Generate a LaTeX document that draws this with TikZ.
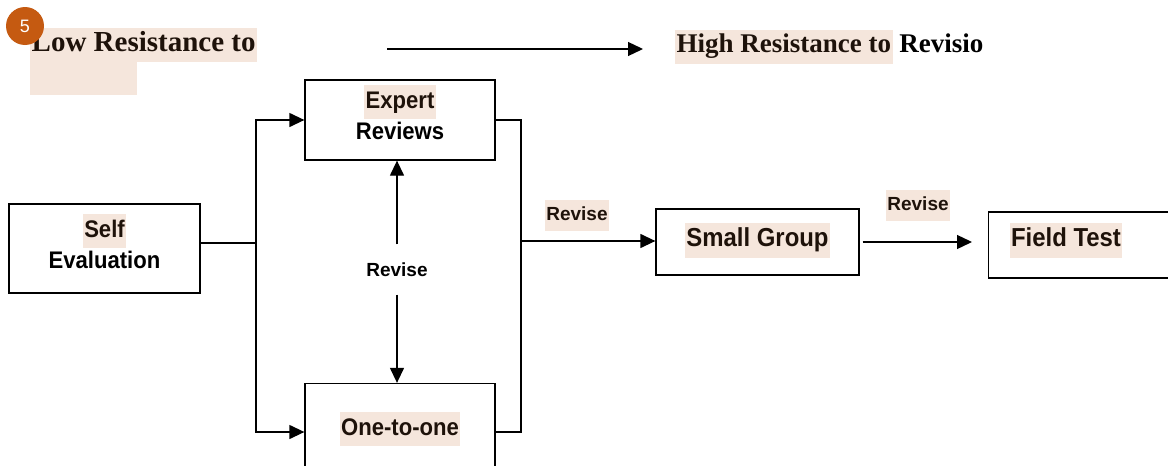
\documentclass[tikz,border=0pt]{standalone}
\usepackage{fontspec}
\setmainfont{Liberation Serif}
\newfontfamily\boxfont[FakeStretch=0.92]{Liberation Sans}
\newfontfamily\tagfont{Liberation Sans}
\usetikzlibrary{arrows.meta}
\definecolor{peach}{RGB}{245,230,220}
\definecolor{badge}{RGB}{197,90,17}
\definecolor{ink}{RGB}{30,18,10}
\newcommand{\hl}[1]{{\setlength{\fboxsep}{1.5pt}\colorbox{peach}{\strut\color{ink}#1}}}

\begin{document}
\begin{tikzpicture}[x=1pt,y=-1pt]
\tikzstyle{every node}+=[inner sep=0pt]
\tikzstyle{stage}=[draw,line width=1.3pt,rectangle]
\tikzstyle{stagetext}=[font=\boxfont\bfseries\fontsize{24}{31}\selectfont,align=center]
\tikzstyle{bigtext}=[font=\boxfont\bfseries\fontsize{26}{32}\selectfont]
\tikzstyle{tag}=[font=\tagfont\bfseries\fontsize{19}{28}\selectfont]
\tikzstyle{head}=[font=\bfseries\fontsize{29}{31}\selectfont,anchor=west]
\tikzstyle{flow}=[line width=1.3pt,-{Triangle[length=15pt,width=14pt]}]
\useasboundingbox (0,0) rectangle (1168,466);
\clip (0,0) rectangle (1168,466);

\node[head] (low) at (30,45) {\hl{Low Resistance to}};
\fill[peach] (30,62) rectangle (137,95);
\node[circle,fill=badge,minimum size=38pt,text=white,font=\tagfont\fontsize{18}{20}\selectfont] (badge) at (25,26) {5};
\coordinate (lowend) at (387,49);
\coordinate (highend) at (643,49);
\draw[flow] (lowend) -- (highend);
\node[head,font=\bfseries\fontsize{27}{31}\selectfont] (high) at (675,46.5) {\hl{High Resistance to} Revisio};

\node[stage,minimum width=191pt,minimum height=89pt] (self) at (104.5,248.5) {};
\node[stagetext,anchor=north] (selftxt) at (104.5,214) {\hl{Self}\\Evaluation};
\node[stage,minimum width=190pt,minimum height=80pt] (expert) at (400,120) {};
\node[stagetext,anchor=north] (experttxt) at (400,85) {\hl{Expert}\\Reviews};
\node[stage,minimum width=190pt,minimum height=97pt] (one) at (400,432) {};
\node[stagetext] (onetxt) at (400,429) {\hl{One-to-one}};
\node[stage,minimum width=203pt,minimum height=66pt] (small) at (757.5,242) {};
\node[bigtext] (smalltxt) at (757.5,240) {\hl{Small Group}};
\node[stage,anchor=west,minimum width=240pt,minimum height=66pt] (field) at (988,245) {};
\node[bigtext] (fieldtxt) at (1066,240) {\hl{Field Test}};

\node[tag,inner ysep=18pt] (revise) at (397,269.5) {Revise};
\node[tag] (revisea) at (577,215) {\hl{Revise}};
\node[tag] (reviseb) at (918,205) {\hl{Revise}};

\coordinate (split) at (256,243);
\coordinate (merge) at (521,241);
\draw[line width=1.3pt] (self.east |- split) -- (split);
\draw[flow] (split) |- (expert.west);
\draw[flow] (split) |- (one.west);
\draw[line width=1.3pt] (expert.east) -| (merge);
\draw[line width=1.3pt] (one.east) -| (merge);
\draw[flow] (merge) -- (small.west |- merge);
\draw[flow] (revise.north) -- (revise.north |- expert.south);
\draw[flow] (revise.south) -- (revise.south |- one.north);
\draw[flow,shorten <=3pt,shorten >=16pt] (small.east) -- (small.east -| field.west);
\end{tikzpicture}
\end{document}
